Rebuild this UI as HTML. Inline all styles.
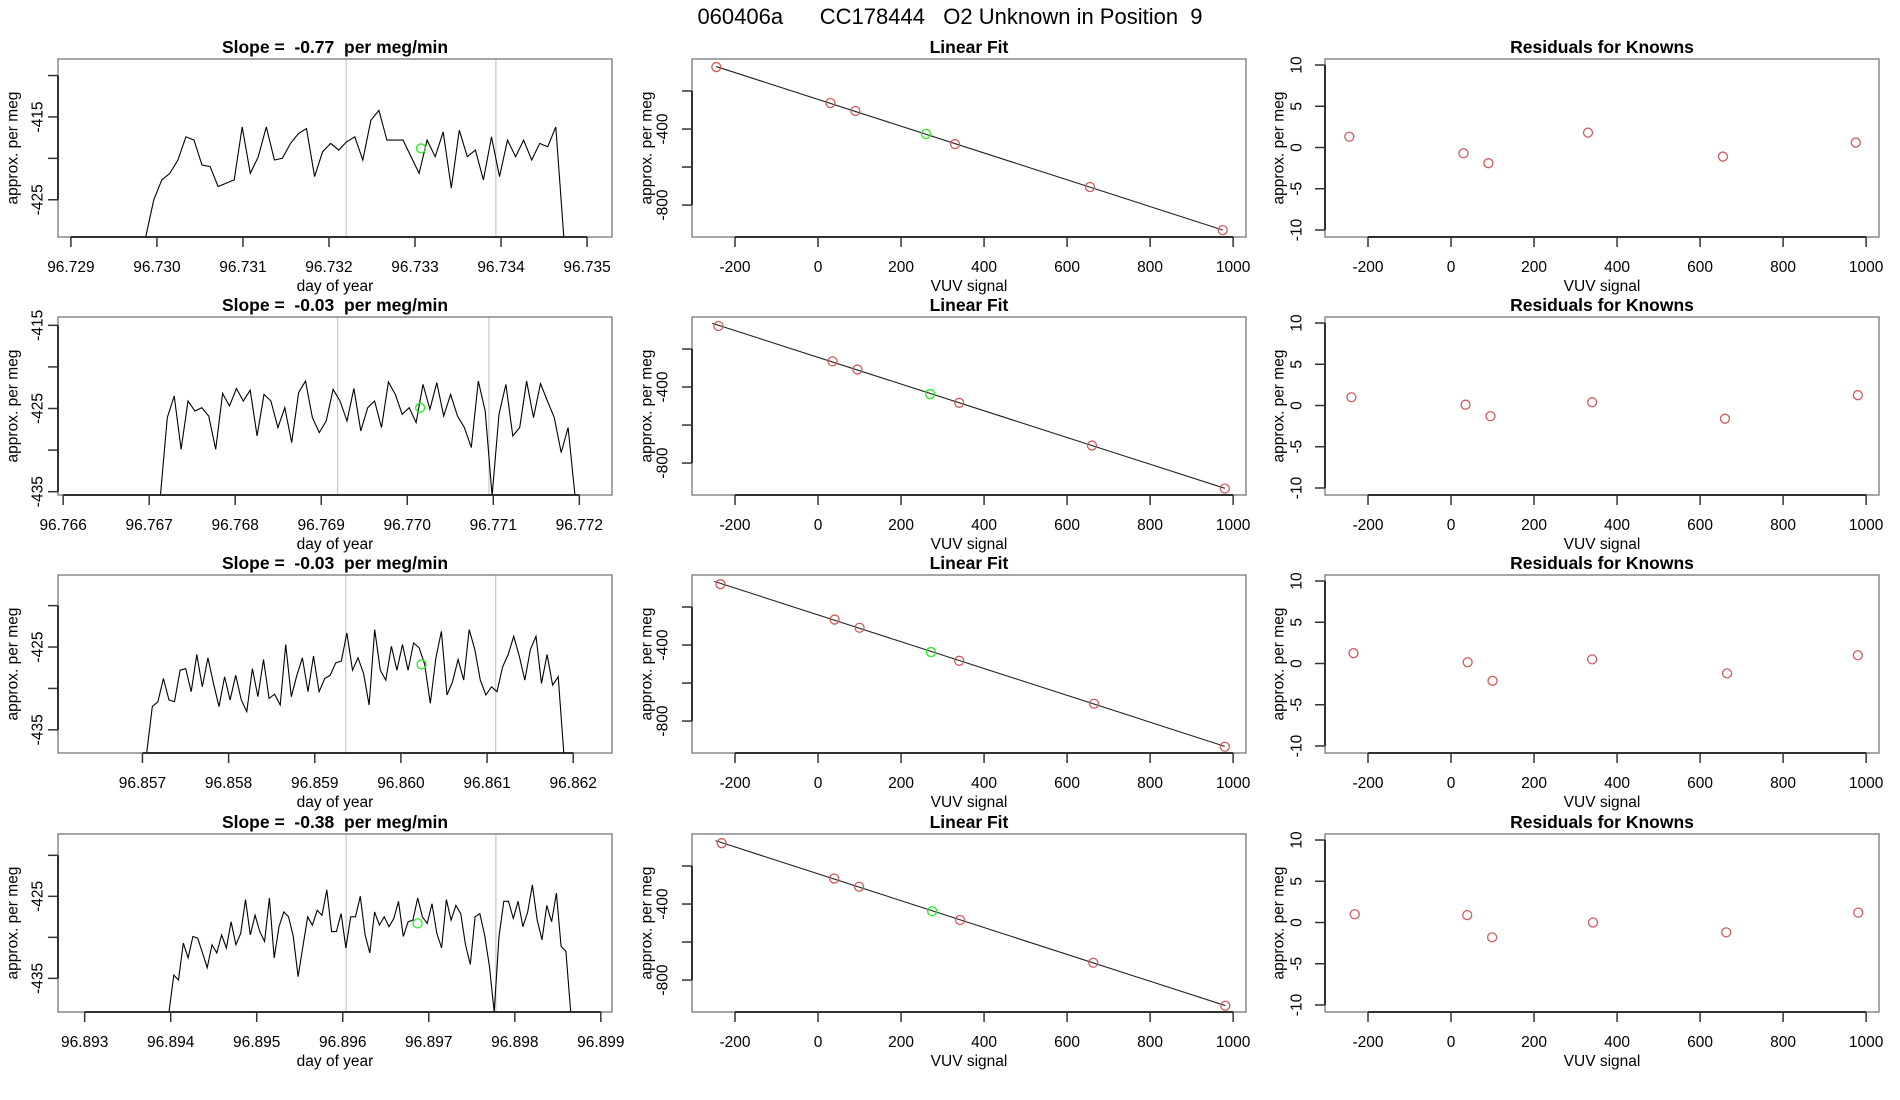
<!DOCTYPE html>
<html><head><meta charset="utf-8">
<style>
html,body{margin:0;padding:0;background:#fff;}
svg{display:block;font-family:"Liberation Sans",Arial,sans-serif;}
text{white-space:pre;}
</style></head>
<body>
<svg id="chart" width="1900" height="1100" viewBox="0 0 1900 1100" xmlns="http://www.w3.org/2000/svg">
<text x="950" y="24" text-anchor="middle" font-size="22" xml:space="preserve" style="white-space:pre">060406a      CC178444   O2 Unknown in Position  9</text>
</svg>
<script>
// ---------- data ----------
const traceTitles = ["Slope =  -0.77  per meg/min","Slope =  -0.03  per meg/min","Slope =  -0.03  per meg/min","Slope =  -0.38  per meg/min"];
const traceStart = [96.72987, 96.76713, 96.85705, 96.89398];
const traceEnd = [96.73473, 96.77195, 96.86189, 96.89865];
const traceXTicks = [
 ["96.729","96.730","96.731","96.732","96.733","96.734","96.735"],
 ["96.766","96.767","96.768","96.769","96.770","96.771","96.772"],
 ["96.857","96.858","96.859","96.860","96.861","96.862"],
 ["96.893","96.894","96.895","96.896","96.897","96.898","96.899"]];
const traceXDomain = [[96.72885,96.73529],[96.76594,96.77238],[96.85602,96.86245],[96.89269,96.89913]];
const traceYDomain = [[-429.5,-408.0],[-435.4,-414.0],[-437.8,-416.3],[-439.1,-417.4]];
const traceYTicks = [[-410,-415,-420,-425],[-415,-420,-425,-430,-435],[-420,-425,-430,-435],[-420,-425,-430,-435]];
const traceYLabels = [[-415,-425],[-415,-425,-435],[-425,-435],[-425,-435]];
const traceVLines = [[96.73220,96.73394],[96.76919,96.77095],[96.85936,96.86110],[96.89604,96.89778]];
const traceGreenX = [96.73307, 96.77015, 96.86024, 96.89687];
const traceGreenY = [-418.8, -424.9, -427.1, -428.3];
const trace1 = [-429.5,-425,-422.6,-421.8,-420.2,-417.4,-417.8,-420.8,-421,-423.4,-423,-422.6,-416.2,-421.8,-419.8,-416.2,-420.2,-420,-418.2,-417,-416.4,-422.2,-419.2,-418.2,-419,-418,-417.4,-420.2,-415.4,-414.2,-417.8,-417.8,-417.8,-419.8,-421.8,-417.8,-419.8,-416.8,-423.6,-416.6,-419.8,-419,-422.6,-417.4,-422.2,-417.8,-419.8,-417.8,-420.2,-418.2,-418.6,-416.2,-429.5];
const trace2 = [-435.5,-426.1,-423.5,-429.9,-424.1,-425.3,-424.9,-425.9,-429.9,-423.2,-424.7,-422.6,-424.1,-422.8,-428.3,-423.3,-424.1,-427.3,-424.9,-429.1,-423.1,-421.7,-426.1,-427.9,-426.5,-422.7,-424.1,-426.5,-422.6,-427.7,-424.9,-424.1,-427.3,-421.8,-423.3,-425.7,-424.9,-426.7,-422.1,-425.1,-421.9,-425.9,-423.3,-425.9,-427.3,-429.7,-421.7,-425.3,-435.5,-425.7,-422.1,-428.3,-427.3,-421.7,-426.1,-422,-424.1,-426.1,-430.3,-427.3,-435.5];
const trace3 = [-437.8,-432.2,-431.6,-428.8,-431.4,-431.6,-427.8,-427.6,-430.4,-425.9,-429.8,-426.3,-429.4,-432.2,-428.6,-431.4,-428.4,-431.4,-432.8,-427.6,-431,-426.5,-431.2,-430.7,-432,-424.7,-431,-428.4,-426.3,-430.4,-426.1,-430.4,-428.8,-428.4,-426.9,-426.7,-423.3,-427.8,-426.3,-428.2,-432,-422.9,-427.8,-429,-424.9,-427.8,-424.7,-427.8,-424.5,-425.1,-427.1,-431.8,-426.3,-423.1,-430.8,-429.2,-426.5,-429,-422.9,-425.3,-429,-430.8,-429.8,-430.4,-427.4,-425.9,-423.7,-426.1,-429,-425.3,-423.7,-429.4,-425.9,-429.6,-428.6,-437.8];
const trace4 = [-439.1,-434.6,-435.2,-430.7,-432.5,-429.9,-430.1,-431.9,-433.7,-430.9,-431.9,-429.7,-431.3,-428.1,-430.9,-429.5,-425.4,-429.7,-427.3,-429.3,-430.5,-425.2,-432.5,-428.7,-426.9,-427.5,-429.9,-434.8,-431.1,-427.5,-428.5,-426.7,-427.3,-424.2,-429.3,-429.3,-427.1,-431.3,-427.5,-427.5,-425,-429.7,-431.9,-426.9,-428.5,-427.5,-428.7,-427.7,-425.6,-429.9,-428.1,-427.9,-425.2,-427.5,-428.3,-425.9,-429.5,-431.3,-425.4,-427.9,-426.1,-427.1,-430.9,-433.3,-427.5,-427.1,-429.7,-433.5,-439.1,-429.9,-425.6,-425.6,-427.7,-425.6,-428.7,-426.9,-423.6,-427.9,-430.3,-426.1,-428.1,-424.6,-431.1,-431.7,-439.1];
const traces = [trace1, trace2, trace3, trace4];

const fitKnownX = [
 [-245,30,90,330,655,975],
 [-240,35,95,340,660,980],
 [-235,40,100,340,665,980],
 [-232,39,99,342,663,981]];
const fitKnownY = [
 [-74,-263,-305,-479,-705,-932],
 [-79,-265,-308,-483,-708,-934],
 [-80,-266,-309,-483,-709,-935],
 [-80,-266,-309,-484,-709,-935]];
const fitUnknownX = [260, 270, 272, 275];
const fitUnknownY = [-426, -437, -437, -438];
const fitXTicks = [-200,0,200,400,600,800,1000];
const fitYTicks = [-200,-400,-600,-800];
const fitYLabels = [-400,-800];

const residX = fitKnownX;
const residY = [
 [1.3,-0.7,-1.9,1.8,-1.1,0.6],
 [1.0,0.1,-1.3,0.4,-1.6,1.25],
 [1.25,0.15,-2.1,0.5,-1.2,1.0],
 [1.0,0.9,-1.8,0.0,-1.2,1.2]];
const residYTicks = [-10,-5,0,5,10];

// ---------- drawing ----------
const NS = "http://www.w3.org/2000/svg";
const svg = document.getElementById('chart');
function mk(tag, attrs, parent){const e=document.createElementNS(NS,tag);for(const k in attrs)e.setAttribute(k,attrs[k]);(parent||svg).appendChild(e);return e;}
const rowTop = [59,317,575,834];
const BOX_H = 178;
const colX = [[58,612],[692,1246],[1325,1879]];
const fitXDom = [-303.6,1031];
const fitYDom = [-968,-31.6];
const resYDom = [-10.85,10.73];
const RED = "#cd5c5c", GREEN = "#22ee22";

function lin(d0,d1,r0,r1){return v=>r0+(v-d0)/(d1-d0)*(r1-r0);}

function panelFrame(g, x0,x1,top, title, ylab, ylabX, tickLabX, xlab){
  const bottom = top+BOX_H;
  const box = mk('rect',{x:x0,y:top,width:x1-x0,height:BOX_H,fill:'none',stroke:'#888','stroke-width':1.5},g);
  
  
  const t = mk('text',{x:(x0+x1)/2,y:top-6,'text-anchor':'middle','font-size':17.5,'font-weight':'bold'},g);
  t.setAttributeNS('http://www.w3.org/XML/1998/namespace','xml:space','preserve');
  t.textContent = title;
  
  
  const yl = mk('text',{x:ylabX,y:top+BOX_H/2,'text-anchor':'middle','font-size':15.5,transform:`rotate(-90 ${ylabX} ${top+BOX_H/2})`,'dominant-baseline':'central'},g);
  yl.textContent = ylab;
  
  
  const xl = mk('text',{x:(x0+x1)/2,y:bottom+54,'text-anchor':'middle','font-size':15.5},g);
  xl.textContent = xlab;
  
  
}
function xAxis(g, sx, vals, labels, bottom){
  const xs = vals.map(sx);
  const ax = mk('line',{x1:xs[0],x2:xs[xs.length-1],y1:bottom,y2:bottom,stroke:'#000','stroke-width':1.5},g);
  
  
  xs.forEach((x,i)=>{
    const tk = mk('line',{x1:x,x2:x,y1:bottom,y2:bottom+10,stroke:'#333','stroke-width':1.5},g);
    
    
    const tl = mk('text',{x:x,y:bottom+35,'text-anchor':'middle','font-size':15.5},g);
    tl.textContent = labels[i];
    
    
  });
}
function yAxis(g, sy, vals, labels, left, labX){
  const ys = vals.map(sy);
  const ax = mk('line',{x1:left,x2:left,y1:Math.min(...ys),y2:Math.max(...ys),stroke:'#000','stroke-width':1.5},g);
  
  
  ys.forEach(y=>{
    const tk = mk('line',{x1:left-10,x2:left,y1:y,y2:y,stroke:'#333','stroke-width':1.5},g);
    
    
  });
  labels.forEach(v=>{
    const y = sy(v);
    const tl = mk('text',{x:labX,y:y,'text-anchor':'middle','font-size':15.5,'dominant-baseline':'central',transform:`rotate(-90 ${labX} ${y})`},g);
    tl.textContent = String(v);
    
    
  });
}
function circle(g,x,y,color,name){
  const c = mk('circle',{cx:x,cy:y,r:4.5,fill:'none',stroke:color,'stroke-width':1.3},g);
  
  
}

for(let r=0;r<4;r++){
  const top = rowTop[r], bottom = top+BOX_H;
  // ---- trace panel ----
  const g1 = mk('g',{});
  
  
  const [a0,a1] = colX[0];
  const sx = lin(traceXDomain[r][0],traceXDomain[r][1],a0,a1);
  const sy = lin(traceYDomain[r][0],traceYDomain[r][1],bottom,top);
  const clipId='clip'+r;
  const cp = mk('clipPath',{id:clipId},g1);
  mk('rect',{x:a0,y:top,width:a1-a0,height:BOX_H},cp);
  traceVLines[r].forEach(v=>{
    const l = mk('line',{x1:sx(v),x2:sx(v),y1:top,y2:bottom,stroke:'#c8c8c8','stroke-width':1.2},g1);
    
    
  });
  const tr = traces[r];
  const pts = tr.map((v,i)=>{const d=traceStart[r]+(traceEnd[r]-traceStart[r])*i/(tr.length-1);return sx(d).toFixed(1)+','+sy(v).toFixed(1);}).join(' ');
  const pl = mk('polyline',{points:pts,fill:'none',stroke:'#000','stroke-width':1.1,'clip-path':`url(#${clipId})`},g1);
  
  
  circle(g1,sx(traceGreenX[r]),sy(traceGreenY[r]),GREEN,'unknown-marker');
  panelFrame(g1,a0,a1,top,traceTitles[r],'approx. per meg',13,38,'day of year');
  const tickVals = traceXTicks[r].map(Number);
  xAxis(g1,sx,tickVals,traceXTicks[r],bottom);
  yAxis(g1,sy,traceYTicks[r],traceYLabels[r],a0,38);

  // ---- linear fit panel ----
  const g2 = mk('g',{});
  
  
  const [b0,b1] = colX[1];
  const fx = lin(fitXDom[0],fitXDom[1],b0,b1);
  const fy = lin(fitYDom[0],fitYDom[1],bottom,top);
  const kx = fitKnownX[r], ky = fitKnownY[r];
  const n = kx.length;
  const mx = kx.reduce((a,b)=>a+b)/n, my = ky.reduce((a,b)=>a+b)/n;
  let sxy=0,sxx=0; for(let i=0;i<n;i++){sxy+=(kx[i]-mx)*(ky[i]-my);sxx+=(kx[i]-mx)**2;}
  const slope=sxy/sxx, icpt=my-slope*mx;
  const xs0 = Math.min(...kx)-(r===0?0:15), xs1=Math.max(...kx);
  const fl = mk('line',{x1:fx(xs0),y1:fy(icpt+slope*xs0),x2:fx(xs1),y2:fy(icpt+slope*xs1),stroke:'#222','stroke-width':1.1},g2);
  
  
  for(let i=0;i<n;i++) circle(g2,fx(kx[i]),fy(ky[i]),RED,'known-point');
  circle(g2,fx(fitUnknownX[r]),fy(fitUnknownY[r]),GREEN,'unknown-point');
  panelFrame(g2,b0,b1,top,'Linear Fit','approx. per meg',647,663,'VUV signal');
  xAxis(g2,fx,fitXTicks,fitXTicks.map(String),bottom);
  yAxis(g2,fy,fitYTicks,fitYLabels,b0,663);

  // ---- residual panel ----
  const g3 = mk('g',{});
  
  
  const [c0,c1] = colX[2];
  const rx = lin(fitXDom[0],fitXDom[1],c0,c1);
  const ry = lin(resYDom[0],resYDom[1],bottom,top);
  for(let i=0;i<residX[r].length;i++) circle(g3,rx(residX[r][i]),ry(residY[r][i]),RED,'residual-point');
  panelFrame(g3,c0,c1,top,'Residuals for Knowns','approx. per meg',1279,1297,'VUV signal');
  xAxis(g3,rx,fitXTicks,fitXTicks.map(String),bottom);
  yAxis(g3,ry,residYTicks,residYTicks,c0,1297);
}
</script>
</body></html>
